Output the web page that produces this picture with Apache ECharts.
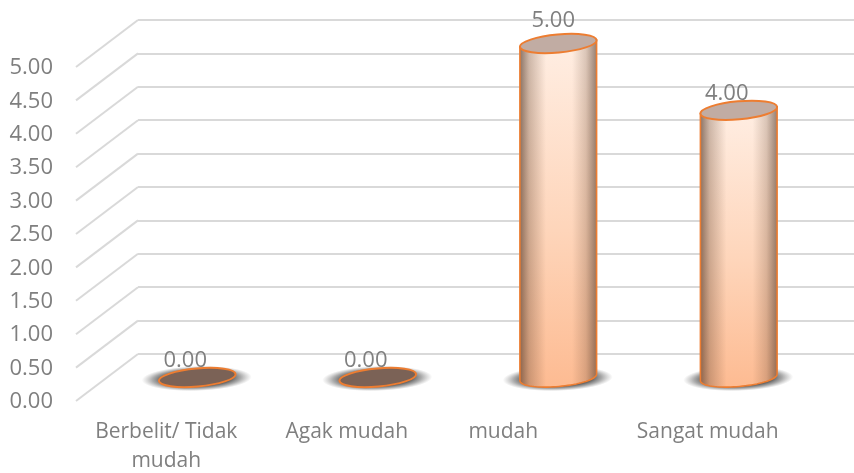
<!DOCTYPE html>
<html><head><meta charset="utf-8">
<style>html,body{margin:0;padding:0;background:#fff}#c{width:854px;height:473px}</style>
<script src="https://cdn.jsdelivr.net/npm/echarts@6/dist/echarts.min.js"></script>
</head><body><div id="c"></div>
<script>
const categories = ['Berbelit/ Tidak\nmudah', 'Agak mudah', 'mudah', 'Sangat mudah'];
const values = [0, 0, 5, 4];
const ticks = [0, 0.5, 1, 1.5, 2, 2.5, 3, 3.5, 4, 4.5, 5];

const FONT = '"Open Sans", sans-serif';
const TXT = '#7f7f7f', GRID = '#d9d9d9', EDGE = '#ed7d31';
const DX = 62, DY = -47;         // chart depth
const W = 722, H = 334;
const RX = 38.5, RY = 9, TILT = 0.09;

const chart = echarts.init(document.getElementById('c'), null, {renderer: 'canvas'});

function ellipsePt(cx, cy, t) {
  const x = RX * Math.cos(t), y = RY * Math.sin(t);
  return [cx + x * Math.cos(TILT) + y * Math.sin(TILT), cy - x * Math.sin(TILT) + y * Math.cos(TILT)];
}
function ell(cx, cy, rx, ry, style, z2) {
  return {type: 'ellipse', shape: {cx: 0, cy: 0, rx, ry}, x: cx, y: cy, rotation: TILT, style, z2};
}
function renderBar(params, api) {
  const v = api.value(1);
  const base = api.coord([api.value(0), 0]);
  const top = api.coord([api.value(0), v]);
  const cx = base[0], by = base[1], ty = top[1];
  const shadow = {type: 'circle', shape: {cx: 0, cy: 0, r: 12.5}, x: cx - 0.5, y: by + 1, scaleX: 4.4, rotation: 0.03, z2: 1,
    style: {fill: new echarts.graphic.RadialGradient(0.5, 0.5, 0.5, [
      {offset: 0, color: 'rgba(62,62,62,0.95)'}, {offset: 0.62, color: 'rgba(70,70,70,0.9)'},
      {offset: 0.8, color: 'rgba(100,100,100,0.55)'}, {offset: 1, color: 'rgba(130,130,130,0)'}])}};
  const children = [shadow];
  if (v > 0) {
    const pts = [ellipsePt(cx, ty, Math.PI)];
    for (let i = 0; i <= 40; i++) pts.push(ellipsePt(cx, by, Math.PI - Math.PI * i / 40));
    pts.push(ellipsePt(cx, ty, 0));
    children.push({type: 'polygon', shape: {points: pts}, z2: 2, style: {
      fill: new echarts.graphic.LinearGradient(0, 0, 0, 1, [
        {offset: 0, color: '#ffeee3'}, {offset: 0.55, color: '#fed5ba'}, {offset: 1, color: '#fdbb92'}])}});
    children.push({type: 'polygon', shape: {points: pts}, z2: 3, style: {
      fill: new echarts.graphic.LinearGradient(0, 0, 1, 0, [
        {offset: 0, color: 'rgba(80,55,40,0.66)'}, {offset: 0.12, color: 'rgba(90,60,40,0.3)'},
        {offset: 0.34, color: 'rgba(90,60,40,0)'}, {offset: 0.68, color: 'rgba(90,60,40,0)'},
        {offset: 0.86, color: 'rgba(90,60,40,0.22)'}, {offset: 1, color: 'rgba(80,55,40,0.6)'}])}});
    children.push({type: 'polygon', shape: {points: pts}, z2: 4, style: {fill: 'none', stroke: EDGE, lineWidth: 1.6}});
  }
  children.push(ell(cx, ty, RX, RY, {fill: v > 0 ? '#c1aca3' : '#7b6256', stroke: EDGE, lineWidth: 2}, 5));
  const atTop = v >= ticks[ticks.length - 1];
  children.push({type: 'text', x: cx + (atTop ? -5 : -12), y: ty + (atTop ? -23 : -17), z2: 6, style: {
    text: v.toFixed(2), fill: TXT, font: '22px ' + FONT, align: 'center', verticalAlign: 'middle'}});
  return {type: 'group', children};
}
function renderDepth(params, api) {
  const p = api.coord([0, api.value(0)]);
  const x0 = p[0] - api.size([1, 0])[0] / 2;
  return {type: 'line', shape: {x1: x0, y1: p[1], x2: x0 + DX, y2: p[1] + DY},
    style: {stroke: GRID, lineWidth: 2}};
}
const hiddenX = i => ({type: 'category', gridIndex: i, data: categories, show: false});
const yBase = {type: 'value', min: 0, max: 5, interval: 0.5};
const gridBase = {outerBoundsMode: 'none', containLabel: false, width: W, height: H};

chart.setOption({
  animation: false,
  backgroundColor: '#fff',
  grid: [
    {...gridBase, left: 76, top: 67},
    {...gridBase, left: 76 + DX, top: 67 + DY},
    {...gridBase, left: 76 + DX / 2, top: 67 + DY / 2}
  ],
  xAxis: [
    {type: 'category', gridIndex: 0, axisLine: {show: false}, axisTick: {show: false},
     data: categories.map(c => c === 'mudah' ? {value: c, textStyle: {padding: [0, 48, 0, 0]}} : c),
     axisLabel: {color: TXT, fontFamily: FONT, fontSize: 21, margin: 17, lineHeight: 29, interval: 0, hideOverlap: false}},
    hiddenX(1), hiddenX(2)
  ],
  yAxis: [
    {...yBase, gridIndex: 0, splitLine: {show: false}, axisLine: {show: false}, axisTick: {show: false},
     axisLabel: {color: TXT, fontFamily: FONT, fontSize: 22, margin: 23, verticalAlign: 'top', lineHeight: 2, formatter: v => v.toFixed(2)}},
    {...yBase, gridIndex: 1, axisLine: {show: false}, axisTick: {show: false}, axisLabel: {show: false},
     splitLine: {show: true, lineStyle: {color: GRID, width: 2}}},
    {...yBase, gridIndex: 2, show: false}
  ],
  series: [
    {type: 'custom', name: 'depth', xAxisIndex: 0, yAxisIndex: 0, clip: false, silent: true, z: 1,
     data: ticks.map(t => [t]), encode: {x: -1, y: 0}, renderItem: renderDepth},
    {type: 'custom', name: 'Nilai', xAxisIndex: 2, yAxisIndex: 2, clip: false, z: 5,
     data: values.map((v, i) => [i, v]), encode: {x: 0, y: 1}, renderItem: renderBar}
  ]
});
</script></body></html>
